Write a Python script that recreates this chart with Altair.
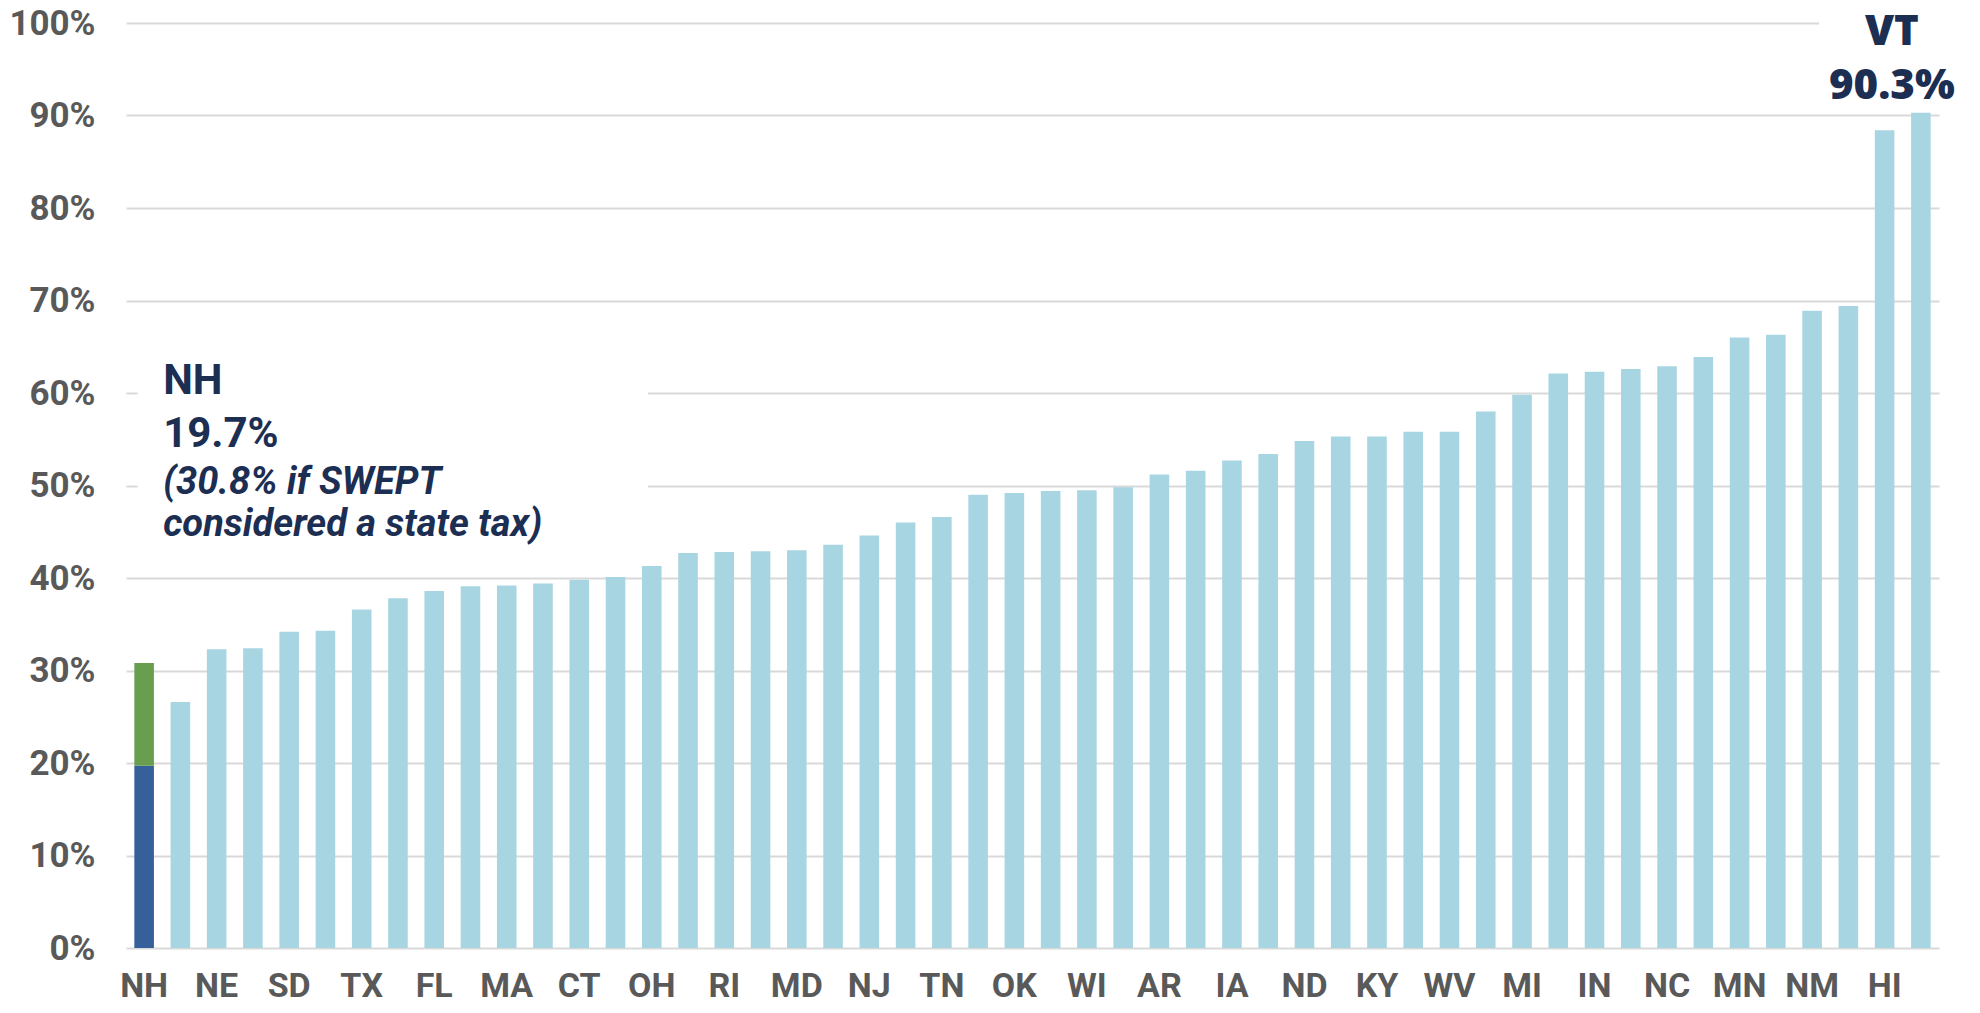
import altair as alt
import pandas as pd

# ---- data ----
states = ["NH", "CO", "NE", "IL", "SD", "NY", "TX", "MO", "FL", "AZ",
          "MA", "GA", "CT", "LA", "OH", "OR", "RI", "SC", "MD", "PA",
          "NJ", "VA", "TN", "AL", "OK", "KS", "WI", "WA", "AR", "NV",
          "IA", "UT", "ND", "ME", "KY", "MT", "WV", "MS", "MI", "ID",
          "IN", "CA", "NC", "WY", "MN", "AK", "NM", "DE", "HI", "VT"]
values = [19.7, 26.6, 32.3, 32.4, 34.2, 34.3, 36.6, 37.8, 38.6, 39.1,
          39.2, 39.4, 39.8, 40.1, 41.3, 42.7, 42.8, 42.9, 43.0, 43.6,
          44.6, 46.0, 46.6, 49.0, 49.2, 49.4, 49.5, 49.8, 51.2, 51.6,
          52.7, 53.4, 54.8, 55.3, 55.3, 55.8, 55.8, 58.0, 59.8, 62.1,
          62.3, 62.6, 62.9, 63.9, 66.0, 66.3, 68.9, 69.4, 88.4, 90.3]
nh_with_swept = 30.8
labeled = ["NH", "NE", "SD", "TX", "FL", "MA", "CT", "OH", "RI", "MD",
           "NJ", "TN", "OK", "WI", "AR", "IA", "ND", "KY", "WV", "MI",
           "IN", "NC", "MN", "NM", "HI"]
y_ticks = [0, 10, 20, 30, 40, 50, 60, 70, 80, 90, 100]

rows = []
for s, v in zip(states, values):
    if s == "NH":
        rows.append({"state": s, "start": 0, "end": v, "series": "state"})
        rows.append({"state": s, "start": v, "end": nh_with_swept, "series": "swept"})
    else:
        rows.append({"state": s, "start": 0, "end": v, "series": "other"})
df = pd.DataFrame(rows)

AXIS_FONT = "Roboto"
NAVY = "#1C2E52"
GRAY = "#595959"

x_enc = alt.X(
    "state:N", sort=states, title=None,
    scale=alt.Scale(paddingInner=0.46, paddingOuter=0.23),
    axis=alt.Axis(values=labeled, labelAngle=0, labelFont=AXIS_FONT,
                  labelFontSize=34, labelFontWeight="bold", labelColor=GRAY,
                  labelPadding=21, domain=False, ticks=False, grid=False,
                  labelOverlap=False),
)
y_enc = alt.Y(
    "start:Q", title=None,
    scale=alt.Scale(domain=[0, 100], nice=False),
    axis=alt.Axis(values=y_ticks, labelExpr="datum.value + '%'",
                  labelFont=AXIS_FONT, labelFontSize=35, labelFontWeight="bold",
                  labelColor=GRAY, labelPadding=31, domain=False, ticks=False,
                  grid=True, gridColor="#D9D9D9", gridWidth=2),
)

bars = alt.Chart(df).mark_bar().encode(
    x=x_enc,
    y=y_enc,
    y2="end:Q",
    color=alt.Color("series:N", legend=None,
                    scale=alt.Scale(domain=["state", "swept", "other"],
                                    range=["#35609A", "#6A9E4F", "#A8D5E2"])),
)

one = pd.DataFrame({"k": [0]})

mask_nh = alt.Chart(one).mark_rect(color="white").encode(
    x=alt.value(11.5), x2=alt.value(522),
    y=alt.datum(44), y2=alt.datum(66),
)
mask_vt = alt.Chart(one).mark_rect(color="white").encode(
    x=alt.value(1693), x2=alt.value(1830),
    y=alt.datum(91), y2=alt.datum(104),
)

def txt(text, yv, size, italic=False, dx=19, align="left", state="NH",
        font=AXIS_FONT, weight="bold"):
    return alt.Chart(one).mark_text(
        text=text, align=align, baseline="alphabetic", dx=dx,
        font=font, fontSize=size, fontWeight=weight,
        fontStyle="italic" if italic else "normal", color=NAVY,
    ).encode(x=alt.datum(state), y=alt.datum(yv))

annots = [
    txt("NH", 59.86, 42),
    txt("19.7%", 54.13, 42),
    txt("(30.8% if SWEPT", 49.05, 38, italic=True),
    txt("considered a state tax)", 44.51, 38, italic=True),
    txt("VT", 97.59, 42, dx=-29, align="center", state="VT", font="Open Sans", weight=800),
    txt("90.3%", 91.75, 42, dx=-29, align="center", state="VT", font="Open Sans", weight=800),
]

chart = alt.layer(bars, mask_nh, mask_vt, *annots).properties(
    width=1813, height=925,
    autosize=alt.AutoSizeParams(type="none"),
    padding={"left": 118, "top": 15, "right": 20, "bottom": 70},
    background="white",
).configure_view(stroke=None)

chart.save("out.html", embed_options={"renderer": "svg", "actions": False})
